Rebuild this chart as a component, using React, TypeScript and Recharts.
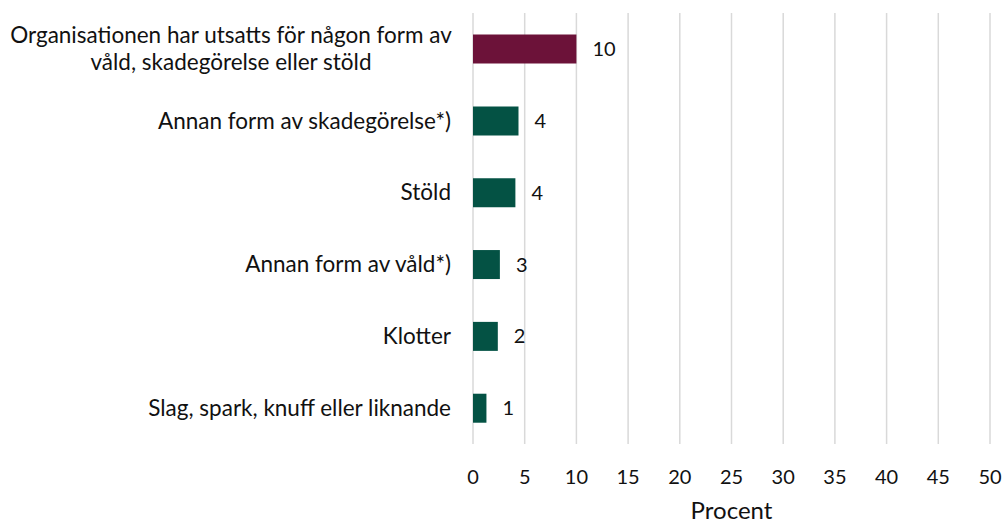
import { Bar, BarChart, CartesianGrid, Cell, LabelList, XAxis, YAxis } from "recharts";

const categories = [
  "Organisationen har utsatts för någon form av våld, skadegörelse eller stöld",
  "Annan form av skadegörelse*)",
  "Stöld",
  "Annan form av våld*)",
  "Klotter",
  "Slag, spark, knuff eller liknande",
];
const values = [10, 4.4, 4.1, 2.6, 2.4, 1.3];
const xTicks = [0, 5, 10, 15, 20, 25, 30, 35, 40, 45, 50];
const barColors = ["#6c1239", "#045244", "#045244", "#045244", "#045244", "#045244"];

const data = categories.map((name, i) => ({ name, value: values[i] }));

const FONT = "Lato, 'Open Sans', sans-serif";
const FS = 22.5;

function wrap(text: string, max: number) {
  const words = text.split(" ");
  const lines: string[] = [];
  let cur = "";
  for (const w of words) {
    const next = cur ? cur + " " + w : w;
    if (next.length > max && cur) {
      lines.push(cur);
      cur = w;
    } else {
      cur = next;
    }
  }
  if (cur) lines.push(cur);
  return lines;
}

function CategoryTick(props: any) {
  const { x, y, payload } = props;
  const lines = wrap(payload.value, 46);
  const lh = 27;
  if (lines.length === 1) {
    return (
      <text x={x - 14} y={y} dy="0.35em" textAnchor="end" fontSize={FS} fill="#111" fontFamily={FONT}>
        {lines[0]}
      </text>
    );
  }
  // multi-line labels are centred as a block whose right edge sits at the axis gap
  const cx = x - 14 - 220;
  return (
    <text x={cx} y={y} textAnchor="middle" fontSize={FS} fill="#111" fontFamily={FONT}>
      {lines.map((l, i) => (
        <tspan key={i} x={cx} dy={i === 0 ? `${0.35 - ((lines.length - 1) * lh) / 2 / FS}em` : lh}>
          {l}
        </tspan>
      ))}
    </text>
  );
}

export default function App() {
  return (
    <div style={{ position: "absolute", left: 0, top: 0, background: "#fff" }}>
      <BarChart
        width={1005}
        height={522}
        data={data}
        layout="vertical"
        margin={{ top: 13, right: 15, bottom: 0, left: 0 }}
        barCategoryGap="30%"
      >
        <CartesianGrid horizontal={false} stroke="#d9d9d9" strokeWidth={1.5} />
        <XAxis
          type="number"
          domain={[0, 50]}
          ticks={xTicks}
          axisLine={false}
          tickLine={false}
          height={78}
          tick={{ fontSize: 20, fill: "#111", fontFamily: FONT }}
          tickMargin={20}
          label={{ value: "Procent", position: "insideBottom", offset: 3, fontSize: 24, fill: "#111", fontFamily: FONT }}
        />
        <YAxis
          type="category"
          dataKey="name"
          width={473}
          axisLine={false}
          tickLine={false}
          tick={<CategoryTick />}
        />
        <Bar dataKey="value" isAnimationActive={false}>
          {data.map((d, i) => (
            <Cell key={d.name} fill={barColors[i]} />
          ))}
          <LabelList
            dataKey="value"
            position="right"
            offset={16}
            formatter={(v: any) => Math.round(Number(v))}
            style={{ fontSize: 20, fill: "#111", fontFamily: FONT }}
          />
        </Bar>
      </BarChart>
    </div>
  );
}
